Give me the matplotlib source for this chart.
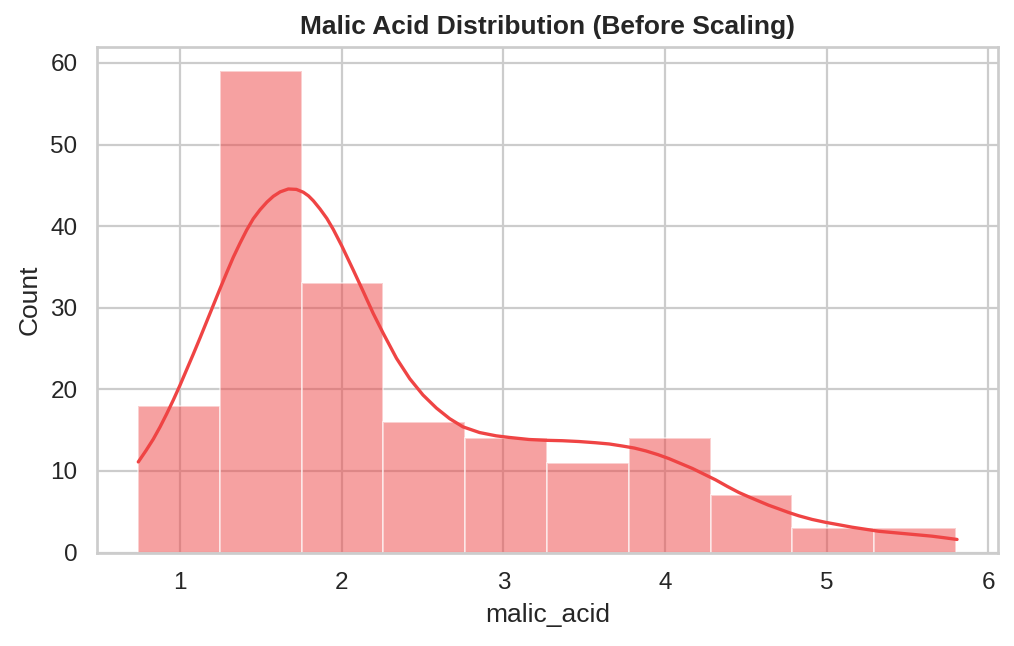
import numpy as np
import matplotlib
matplotlib.use("Agg")
import matplotlib.pyplot as plt
import seaborn as sns

# ---- data ----
bin_start = 0.74
bin_end = 5.80
counts = [18, 59, 33, 16, 14, 11, 14, 7, 3, 3]

kde_x = [0.742, 0.790, 0.835, 0.877, 0.918, 0.959, 1.000, 1.041, 1.082, 1.124,
         1.165, 1.206, 1.247, 1.289, 1.330, 1.371, 1.412, 1.453, 1.495, 1.538,
         1.577, 1.620, 1.670, 1.720, 1.763, 1.795, 1.825, 1.866, 1.908, 1.948,
         2.000, 2.072, 2.133, 2.195, 2.256, 2.339, 2.421, 2.503, 2.586, 2.668,
         2.750, 2.853, 2.955, 3.037, 3.159, 3.262, 3.365, 3.468, 3.571, 3.655,
         3.736, 3.810, 3.881, 3.955, 4.025, 4.097, 4.169, 4.241, 4.313, 4.385,
         4.457, 4.520, 4.580, 4.640, 4.703, 4.765, 4.827, 4.910, 4.992, 5.075,
         5.157, 5.240, 5.322, 5.405, 5.487, 5.570, 5.651, 5.730, 5.806]
kde_y = [11.1, 12.5, 13.9, 15.4, 17.0, 18.7, 20.5, 22.4, 24.3, 26.3,
         28.3, 30.3, 32.3, 34.3, 36.2, 37.9, 39.5, 40.9, 42.0, 42.95,
         43.65, 44.2, 44.55, 44.5, 44.15, 43.7, 43.1, 42.1, 40.95, 39.6,
         37.6, 34.6, 32.0, 29.3, 26.9, 23.8, 21.3, 19.3, 17.7, 16.4,
         15.4, 14.7, 14.3, 14.1, 13.85, 13.75, 13.7, 13.6, 13.45, 13.3,
         13.05, 12.8, 12.45, 12.0, 11.5, 10.9, 10.3, 9.6, 8.9, 8.1,
         7.35, 6.8, 6.3, 5.8, 5.35, 4.9, 4.5, 4.05, 3.7, 3.4,
         3.1, 2.85, 2.6, 2.45, 2.3, 2.15, 2.0, 1.8, 1.6]

title = "Malic Acid Distribution (Before Scaling)"
xlabel = "malic_acid"
ylabel = "Count"
color = "#EF4444"

sns.set_theme(style="whitegrid")
plt.rcParams['font.family'] = ['Liberation Sans', 'DejaVu Sans']

W, H, DPI = 1014, 646, 144
fig = plt.figure(figsize=(W / DPI, H / DPI), dpi=DPI)
left, right, top, bottom = 97, 998, 47, 552.5
ax = fig.add_axes([left / W, (H - bottom) / H, (right - left) / W, (bottom - top) / H])

edges = np.linspace(bin_start, bin_end, len(counts) + 1)
widths = np.diff(edges)
ax.bar(edges[:-1], counts, width=widths, align='edge', color=color, alpha=0.5,
       edgecolor='white', linewidth=1.0)
ax.plot(kde_x, kde_y, color=color, linewidth=1.65, solid_capstyle='round')

ax.set_title(title, fontsize=13.2, fontweight='bold', pad=6.6)
ax.set_xlabel(xlabel, fontsize=13.2, labelpad=4.4)
ax.set_ylabel(ylabel, fontsize=13.2, labelpad=4.4)
ax.tick_params(labelsize=12.1, pad=3.8)
ax.grid(linewidth=1.1)
for s in ax.spines.values():
    s.set_linewidth(1.35)
ax.margins(x=0.05, y=0.05)
ax.set_ylim(0, None)

fig.savefig("out.png", dpi=DPI)
